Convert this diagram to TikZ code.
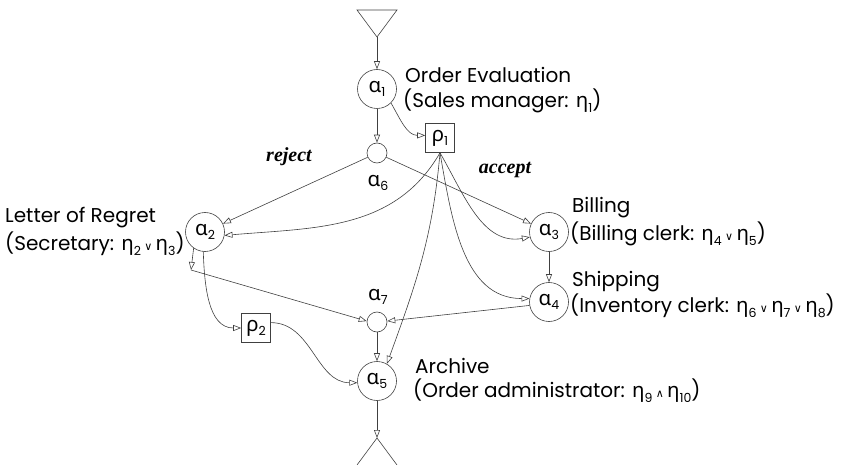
\documentclass[tikz,border=0pt]{standalone}
\usepackage{fontspec}
\setmainfont{Poppins}
\newfontfamily\gkfont{Noto Sans}
\newfontfamily\dvsym{DejaVu Sans}
\newfontfamily\lblfont{Liberation Serif}
\usetikzlibrary{arrows.meta}
\newcommand\gsym[1]{{\gkfont\fontsize{20.5}{20.5}\selectfont #1}}
\newcommand\sbs[1]{\raisebox{-0.45ex}{\fontsize{12.5}{12.5}\selectfont #1}}
\newcommand\orsym{\,{\dvsym\fontsize{11}{11}\selectfont ∨}\,}
\newcommand\andsym{\,{\dvsym\fontsize{11}{11}\selectfont ∧}\,}
\begin{document}
\begin{tikzpicture}[x=1pt,y=-1pt,
  line/.style={draw=black!75, line width=0.6pt},
  arr/.style={line, -{Triangle[open,length=8pt,width=6pt]}},
  task/.style={circle, draw=black!75, line width=0.6pt, minimum size=39pt, inner sep=0pt, font=\fontsize{19}{19}\selectfont},
  conn/.style={circle, draw=black!75, line width=0.6pt, minimum size=20pt, inner sep=0pt},
  res/.style={rectangle, draw=black!75, line width=0.6pt, minimum size=29pt, inner sep=0pt, font=\fontsize{19}{19}\selectfont},
  txt/.style={anchor=west, inner sep=0pt, font=\fontsize{20}{20}\selectfont},
  cond/.style={inner sep=0pt, font=\lblfont\bfseries\itshape\fontsize{20}{20}\selectfont}]
\useasboundingbox (0,0) rectangle (857,465);
% start triangle
\draw[line] (357,10) -- (397,10) -- (377,37) -- cycle;
\coordinate (top) at (377,37);
% bottom shape
\coordinate (bot) at (377,438);
\coordinate (botl) at (357,465);
\coordinate (botr) at (397,465);
\draw[line] (botl) -- (bot) -- (botr);
% nodes
\node[task] (a1) at (377,89) {\gsym{α}\sbs{1}};
\node[res] (r1) at (440,138) {\gsym{ρ}\sbs{1}};
\node[conn] (a6) at (377,153) {};
\node[task] (a2) at (205,232) {\gsym{α}\sbs{2}};
\node[task] (a3) at (549,232) {\gsym{α}\sbs{3}};
\node[task] (a4) at (549,302) {\gsym{α}\sbs{4}};
\node[conn] (a7) at (377,322) {};
\node[res] (r2) at (256,328) {\gsym{ρ}\sbs{2}};
\node[task] (a5) at (377,381) {\gsym{α}\sbs{5}};
\coordinate (bend) at (191,270);
% labels
\node[task, draw=none, minimum size=0pt] (l6) at (378,183) {\gsym{α}\sbs{6}};
\node[task, draw=none, minimum size=0pt] (l7) at (378,297) {\gsym{α}\sbs{7}};
\node[cond] (rej) at (289,157) {reject};
\node[cond] (acc) at (505,170) {accept};
\node[txt] (t1a) at (405,75) {Order Evaluation};
\node[txt] (t1b) at (403,101) {(Sales manager: \gsym{η}\sbs{1})};
\node[txt] (t2a) at (5,218) {Letter of Regret};
\node[txt] (t2b) at (5,244) {(Secretary: \gsym{η}\sbs{2}\orsym\gsym{η}\sbs{3})};
\node[txt] (t3a) at (572,208) {Billing};
\node[txt] (t3b) at (570,234) {(Billing clerk: \gsym{η}\sbs{4}\orsym\gsym{η}\sbs{5})};
\node[txt] (t4a) at (572,282) {Shipping};
\node[txt] (t4b) at (570,306) {(Inventory clerk: \gsym{η}\sbs{6}\orsym\gsym{η}\sbs{7}\orsym\gsym{η}\sbs{8})};
\node[txt] (t5a) at (415,366) {Archive};
\node[txt] (t5b) at (413,391) {(Order administrator: \gsym{η}\sbs{9}\andsym\gsym{η}\sbs{10})};
% connectors
\draw[arr] (top) -- (a1);
\draw[arr] (a1) -- (a6);
\draw[arr] (a1.-45) to[out=-60,in=180] (r1.170);
\draw[arr] (a6) -- (a2.25);
\draw[arr] (a6) -- (a3.155);
\draw[arr] (r1.south) to[out=-120,in=5] (a2.-10);
\draw[arr] (r1.south) to[out=-60,in=190] (a3.-165);
\draw[arr] (r1.south) to[out=-80,in=180] (a4.170);
\draw[arr] (r1.south) to[out=-95,in=70] (a5.60);
\draw[arr] (a3) -- (a4);
\draw[arr] (a2.-125) -- (bend);
\draw[arr] (bend) -- (a7.175);
\draw[arr] (a2.-95) to[out=-88,in=180] (r2.west);
\draw[arr] (r2.20) to[out=0,in=180] (a5.185);
\draw[arr] (a4.190) -- (a7.5);
\draw[arr] (a7) -- (a5);
\draw[arr] (a5) -- (bot);
\end{tikzpicture}
\end{document}
